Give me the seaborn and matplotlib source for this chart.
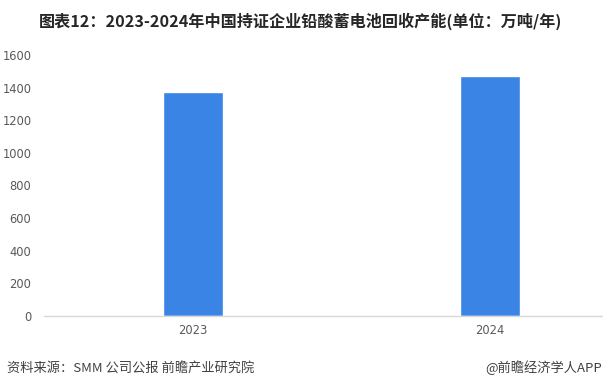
import matplotlib
matplotlib.use("Agg")
import matplotlib.pyplot as plt
import seaborn as sns
import pandas as pd

years = ["2023", "2024"]
capacity = [1375, 1470]
yticks = [0, 200, 400, 600, 800, 1000, 1200, 1400, 1600]

title = "图表12：2023-2024年中国持证企业铅酸蓄电池回收产能(单位：万吨/年)"
source = "资料来源：SMM 公司公报 前瞻产业研究院"
brand = "@前瞻经济学人APP"

sns.set_theme(style="white")
plt.rcParams['font.family'] = ['Noto Sans CJK SC', 'DejaVu Sans']

df = pd.DataFrame({"year": years, "value": capacity})

fig = plt.figure(figsize=(6.03, 3.90), dpi=100)
ax = fig.add_axes([44/603, (390-316)/390, (603-44)/603, (316-55)/390])

sns.barplot(data=df, x="year", y="value", color="#3a84e6", width=0.2,
            saturation=1, ax=ax)

ax.set_xlim(-0.502, 1.38)
ax.set_ylim(0, 1600)
ax.set_yticks(yticks)
ax.set_yticklabels([str(v) for v in yticks], fontsize=8.3, color="#595959",
                   family=['DejaVu Sans'])
ax.set_xticks([0, 1])
ax.set_xticklabels(years, fontsize=8.3, color="#595959", family=['DejaVu Sans'])
ax.tick_params(axis='y', length=0, pad=9)
ax.tick_params(axis='x', length=0, pad=6)
ax.set_xlabel("")
ax.set_ylabel("")
for s in ["top", "right", "left"]:
    ax.spines[s].set_visible(False)
ax.spines["bottom"].set_color("#d9d9d9")
ax.spines["bottom"].set_linewidth(1)
ax.grid(False)

fig.text(301/603, 1 - 21/390, title, ha="center", va="center", fontsize=11.6,
         fontweight="bold", color="#262626")
fig.text(7/603, 1 - 368/390, source, ha="left", va="center", fontsize=9.5,
         color="#404040")
fig.text(602/603, 1 - 368/390, brand, ha="right", va="center", fontsize=9.5,
         color="#404040")

fig.savefig("out.png", dpi=100, facecolor="white")
